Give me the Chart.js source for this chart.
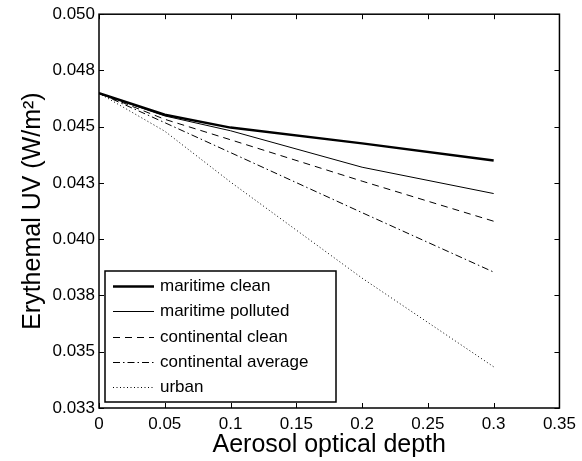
<!DOCTYPE html>
<html>
<head>
<meta charset="utf-8">
<title>Erythemal UV vs aerosol optical depth</title>
<script src="https://cdn.jsdelivr.net/npm/chart.js@4.4.1/dist/chart.umd.min.js"></script>
<style>
html, body { margin:0; padding:0; background:#fff; }
#wrap { position:relative; width:582px; height:461px; }
</style>
</head>
<body>
<div id="wrap"><canvas id="myChart" width="582" height="461"></canvas></div>
<script>
// data
var aod = [0, 0.05, 0.1, 0.2, 0.3];
var maritimeClean    = [0.04649, 0.04553, 0.04496, 0.04426, 0.04350];
var maritimePolluted = [0.04649, 0.04548, 0.04482, 0.04320, 0.04203];
var continentalClean = [0.04649, 0.04533, 0.04442, 0.04258, 0.04080];
var continentalAvg   = [0.04649, 0.04518, 0.04385, 0.04118, 0.03854];
var urban            = [0.04649, 0.04480, 0.04254, 0.03827, 0.03433];
var seriesNames = ['maritime clean', 'maritime polluted', 'continental clean', 'continental average', 'urban'];

var xTicks = [0, 0.05, 0.1, 0.15, 0.2, 0.25, 0.3, 0.35];
var xTickLabels = ['0', '0.05', '0.1', '0.15', '0.2', '0.25', '0.3', '0.35'];
var yTicks = [0.0325, 0.035, 0.0375, 0.04, 0.0425, 0.045, 0.0475, 0.05];
var yTickLabels = ['0.033', '0.035', '0.038', '0.040', '0.043', '0.045', '0.048', '0.050'];

var FONT = "'Liberation Sans', Arial, Helvetica, sans-serif";

function pts(arr) {
    return aod.map(function (x, i) { return { x: x, y: arr[i] }; });
}

// line styles per series
var styles = [
    { w: 2.5, dash: [] },
    { w: 1, dash: [] },
    { w: 1, dash: [7, 5] },
    { w: 1, dash: [7, 3, 1.5, 3] },
    { w: 1, dash: [1, 2.5] }
];
var allSeries = [maritimeClean, maritimePolluted, continentalClean, continentalAvg, urban];

var datasets = allSeries.map(function (s, i) {
    return {
        label: seriesNames[i],
        data: pts(s),
        borderColor: '#000',
        borderWidth: styles[i].w,
        borderDash: styles[i].dash,
        pointRadius: 0,
        fill: false,
        tension: 0
    };
});

// box, inward ticks and the legend inside the axes
var framePlugin = {
    id: 'frame',
    afterDatasetsDraw: function (chart) {
        var c = chart.ctx, a = chart.chartArea;
        var xs = chart.scales.x, ys = chart.scales.y;
        c.save();
        c.strokeStyle = '#000';
        c.lineWidth = 1;
        c.setLineDash([]);
        c.beginPath();
        xs.ticks.forEach(function (t, i) {
            var px = Math.round(xs.getPixelForTick(i)) + 0.5;
            c.moveTo(px, a.bottom); c.lineTo(px, a.bottom - 5);
            c.moveTo(px, a.top); c.lineTo(px, a.top + 5);
        });
        ys.ticks.forEach(function (t, i) {
            var py = Math.round(ys.getPixelForTick(i)) + 0.5;
            c.moveTo(a.left, py); c.lineTo(a.left + 5, py);
            c.moveTo(a.right, py); c.lineTo(a.right - 5, py);
        });
        c.stroke();
        c.lineWidth = 1.5;
        c.strokeRect(a.left, a.top, a.right - a.left, a.bottom - a.top);

        // legend
        var lx = 105, ly = 271, lw = 231, lh = 131;
        c.fillStyle = '#fff';
        c.fillRect(lx, ly, lw, lh);
        c.lineWidth = 1.5;
        c.strokeRect(lx, ly, lw, lh);
        c.font = '17px ' + FONT;
        c.textBaseline = 'middle';
        c.textAlign = 'left';
        chart.data.datasets.forEach(function (ds, i) {
            var y = Math.round(ly + 15 + i * 25.3) + 0.5;
            c.beginPath();
            c.lineWidth = ds.borderWidth;
            c.setLineDash(ds.borderDash);
            c.moveTo(113, y); c.lineTo(154, y);
            c.stroke();
            c.setLineDash([]);
            c.fillStyle = '#000';
            c.fillText(ds.label, 160, y);
        });
        c.restore();
    }
};

var ctx = document.getElementById('myChart').getContext('2d');
var chart = new Chart(ctx, {
    type: 'line',
    data: { datasets: datasets },
    plugins: [framePlugin],
    options: {
        responsive: false,
        animation: false,
        layout: { padding: { left: 0, top: 13, right: 17, bottom: 0 } },
        plugins: { legend: { display: false }, tooltip: { enabled: false } },
        scales: {
            x: {
                type: 'linear', min: 0, max: 0.35,
                afterBuildTicks: function (s) { s.ticks = xTicks.map(function (v) { return { value: v }; }); },
                afterFit: function (s) { s.height = 53; },
                grid: { display: false, drawTicks: false },
                border: { display: false },
                ticks: {
                    color: '#000', padding: 6, maxRotation: 0, autoSkip: false,
                    font: { size: 17, family: FONT },
                    callback: function (v, i) { return xTickLabels[i]; }
                },
                title: {
                    display: true, text: 'Aerosol optical depth', color: '#000',
                    font: { size: 25, family: FONT }, padding: { top: 0, bottom: 1 }
                }
            },
            y: {
                type: 'linear', min: 0.0325, max: 0.05,
                afterBuildTicks: function (s) { s.ticks = yTicks.map(function (v) { return { value: v }; }); },
                afterFit: function (s) { s.width = 99; },
                grid: { display: false, drawTicks: false },
                border: { display: false },
                ticks: {
                    color: '#000', padding: 4, autoSkip: false,
                    font: { size: 17, family: FONT },
                    callback: function (v, i) { return yTickLabels[i]; }
                },
                title: {
                    display: true, text: 'Erythemal UV (W/m²)', color: '#000',
                    font: { size: 25, family: FONT }, padding: { top: 18, bottom: 0 }
                }
            }
        }
    }
});
</script>
</body>
</html>
